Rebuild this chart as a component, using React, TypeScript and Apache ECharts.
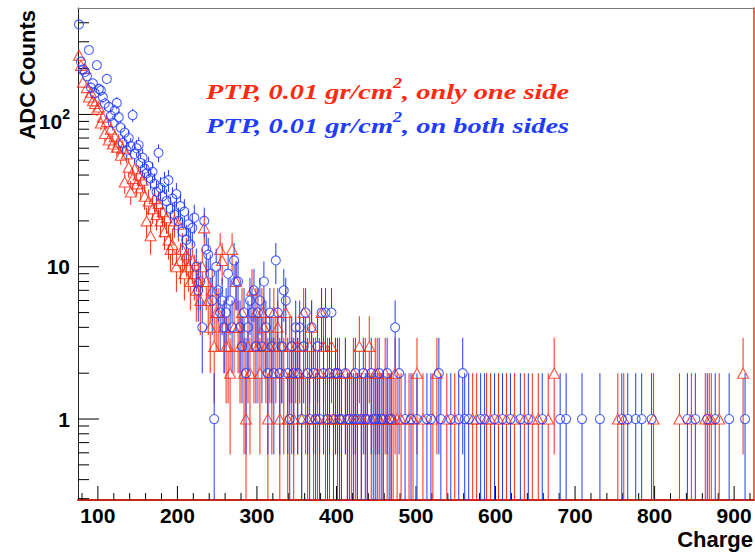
import React, { useEffect, useRef } from "react";
import * as echarts from "echarts";

// ---- axis ranges ----
const X_MIN = 75;
const X_MAX = 925;
const Y_MIN = 0.294;
const Y_MAX = 500;

// ---- histogram binning (bin k is centred at BIN_START + BIN_WIDTH * (k + 0.5)) ----
const BIN_START = 75;
const BIN_WIDTH = 2.5;

// counts, bins 0..159 (75 - 475)
const redHeadCounts = [
  245, 210, 163, 200, 150, 130, 140, 123, 118, 108,
  112, 88, 96, 75, 90, 68, 80, 64, 72, 61,
  66, 54, 60, 36, 55, 45, 31, 38, 44, 35,
  40, 33, 37, 29, 20, 27, 16, 24, 28, 22,
  26, 20, 23, 17, 21, 15, 13, 14, 20, 10,
  19, 11, 13, 9, 12, 10, 8, 11, 9, 7,
  8, 6, 10, 18, 8, 6, 4, 7, 3, 5,
  5, 13, 11, 4, 3, 3, 2, 13, 4, 8,
  4, 3, 5, 2, 1, 3, 2, 7, 3, 5,
  3, 2, 5, 4, 3, 1, 3, 2, 5, 3,
  4, 1, 3, 2, 5, 1, 3, 2, 1, 3,
  2, 3, 1, 5, 2, 1, 3, 4, 1, 2,
  1, 2, 5, 3, 1, 2, 1, 3, 1, 2,
  1, 2, 1, 0, 2, 1, 0, 1, 2, 1,
  1, 3, 1, 0, 2, 1, 3, 1, 0, 2,
  2, 1, 0, 1, 2, 1, 0, 1, 1, 2,
];

const blueHeadCounts = [
  390, 222, 197, 190, 178, 265, 150, 160, 138, 211,
  147, 144, 130, 118, 171, 112, 98, 88, 106, 119,
  96, 82, 65, 76, 58, 70, 62, 99, 55, 60,
  63, 48, 52, 44, 41, 46, 38, 42, 35, 31,
  56, 33, 29, 36, 27, 37, 24, 28, 22, 30,
  20, 25, 17, 23, 15, 19, 14, 18, 21, 10,
  7, 8, 4, 20, 13, 12, 9, 6, 1, 10,
  7, 5, 6, 4, 5, 9, 6, 4, 11, 8,
  8, 4, 3, 5, 2, 4, 6, 5, 7, 3,
  5, 6, 3, 8, 4, 2, 5, 3, 2, 11,
  5, 2, 3, 7, 6, 2, 1, 3, 2, 4,
  2, 4, 1, 3, 5, 2, 1, 4, 2, 1,
  3, 1, 5, 2, 5, 1, 2, 5, 1, 2,
  2, 1, 1, 0, 2, 1, 1, 0, 1, 2,
  1, 0, 1, 2, 1, 1, 0, 2, 1, 1,
  1, 2, 1, 1, 0, 2, 1, 1, 0, 4,
];

// sparse tails above 475: [charge, counts]
const redTail: [number, number][] = [
  [476.25, 1], [481.25, 1], [491.25, 1], [496.25, 1], [501.25, 2], [508.75, 1],
  [521.25, 1], [526.25, 2], [538.75, 1], [548.75, 1], [571.25, 1], [576.25, 1],
  [588.75, 1], [593.75, 1], [603.75, 1], [613.75, 1], [623.75, 1], [636.25, 1],
  [646.25, 1], [653.75, 1], [666.25, 1], [673.75, 2], [753.75, 1], [761.25, 1],
  [798.75, 1], [831.25, 1], [846.25, 1], [863.75, 1], [868.75, 1], [871.25, 1],
  [881.25, 1], [911.25, 2],
];

const blueTail: [number, number][] = [
  [478.75, 2], [486.25, 1], [493.75, 1], [501.25, 1], [513.75, 1], [518.75, 1],
  [528.75, 2], [531.25, 1], [543.75, 1], [553.75, 1], [558.75, 2], [561.25, 1],
  [566.25, 1], [581.25, 1], [586.25, 1], [598.75, 1], [608.75, 1], [618.75, 1],
  [631.25, 1], [641.25, 1], [658.75, 1], [681.25, 1], [688.75, 1], [708.75, 1],
  [731.25, 1], [758.75, 1], [766.25, 1], [776.25, 1], [783.75, 1], [796.25, 1],
  [841.25, 1], [851.25, 1], [866.25, 1], [876.25, 1], [893.75, 1], [913.75, 1],
];

// ---- ticks & labels ----
const xLabelValues = [100, 200, 300, 400, 500, 600, 700, 800, 900];
const xMinorTicks = [
  80, 120, 140, 160, 180, 220, 240, 260, 280, 320, 340, 360, 380, 420, 440, 460, 480,
  520, 540, 560, 580, 620, 640, 660, 680, 720, 740, 760, 780, 820, 840, 860, 880, 920,
];
const yMajorTicks = [1, 10, 100];
const yMinorTicks = [
  0.3, 0.4, 0.5, 0.6, 0.7, 0.8, 0.9, 2, 3, 4, 5, 6, 7, 8, 9,
  20, 30, 40, 50, 60, 70, 80, 90, 200, 300, 400,
];

const legendRed = "PTP, 0.01 gr/cm{s|2}, only one side";
const legendBlue = "PTP, 0.01 gr/cm{s|2}, on both sides";

const RED = "#ff2a12";
const BLUE = "#1f3dff";

function toPoints(head: number[], tail: [number, number][]) {
  const pts: [number, number][] = [];
  head.forEach((n, k) => {
    if (n > 0) pts.push([BIN_START + BIN_WIDTH * (k + 0.5), n]);
  });
  tail.forEach((p) => pts.push(p));
  return pts;
}

const makeErrRender = (color: string, gap: number) => (_params: any, api: any) => {
  const x = api.value(0);
  const n = api.value(1);
  const s = Math.sqrt(n);
  const lo = Math.max(n - s, Y_MIN);
  const hi = Math.min(n + s, Y_MAX);
  const p = api.coord([x, n]);
  const pl = api.coord([x, lo]);
  const ph = api.coord([x, hi]);
  const children: any[] = [];
  if (ph[1] < p[1] - gap)
    children.push({
      type: "line",
      shape: { x1: p[0], y1: ph[1], x2: p[0], y2: p[1] - gap },
      style: { stroke: color, lineWidth: 1 },
    });
  if (pl[1] > p[1] + gap)
    children.push({
      type: "line",
      shape: { x1: p[0], y1: p[1] + gap, x2: p[0], y2: pl[1] },
      style: { stroke: color, lineWidth: 1 },
    });
  return { type: "group", children };
};

const LABEL_FONT = "Liberation Sans";

export default function App() {
  const ref = useRef<HTMLDivElement>(null);

  useEffect(() => {
    if (!ref.current) return;
    const chart = echarts.init(ref.current, undefined, { renderer: "svg" });

    const redPts = toPoints(redHeadCounts, redTail);
    const bluePts = toPoints(blueHeadCounts, blueTail);

    const xTickData = [
      ...xLabelValues.map((v) => [v, Y_MIN, 14]),
      ...xMinorTicks.map((v) => [v, Y_MIN, 7]),
    ];
    const yTickData = [
      ...yMajorTicks.map((v) => [X_MIN, v, 21]),
      ...yMinorTicks.map((v) => [X_MIN, v, 11]),
    ];

    const serifRich = (color: string) => ({
      s: {
        fontFamily: "Liberation Serif",
        fontStyle: "italic",
        fontWeight: "bold",
        fontSize: 14,
        fill: color,
        padding: [0, 0, 15, 0],
      },
    });

    const option: any = {
      animation: false,
      backgroundColor: "#ffffff",
      grid: { left: 78, right: 1, top: 8, bottom: 53, containLabel: false },
      xAxis: [
        {
          type: "value",
          position: "bottom",
          min: X_MIN,
          max: X_MAX,
          axisLine: { show: true, lineStyle: { color: "#c8281a", width: 2 } },
          axisTick: { show: false },
          splitLine: { show: false },
          axisLabel: {
            customValues: xLabelValues,
            fontFamily: LABEL_FONT,
            fontWeight: "bold",
            fontSize: 21,
            color: "#000",
            margin: 5,
          },
        },
        {
          type: "value",
          position: "top",
          min: X_MIN,
          max: X_MAX,
          axisLine: { show: true, lineStyle: { color: "#7a7a7a", width: 1 } },
          axisTick: { show: false },
          axisLabel: { show: false },
          splitLine: { show: false },
        },
      ],
      yAxis: [
        {
          type: "log",
          logBase: 10,
          position: "left",
          min: Y_MIN,
          max: Y_MAX,
          axisLine: { show: true, lineStyle: { color: "#222", width: 1 } },
          axisTick: { show: false },
          splitLine: { show: false },
          axisLabel: {
            showMinLabel: false,
            showMaxLabel: false,
            fontFamily: LABEL_FONT,
            fontWeight: "bold",
            fontSize: 21,
            color: "#000",
            margin: 8,
            formatter: (v: number) => {
              const l = Math.log10(v);
              const e = Math.round(l);
              if (Math.abs(l - e) > 1e-6) return "";
              if (e === 0) return "1";
              if (e === 1) return "10";
              if (e === 2) return "{b|10}{s|2}";
              return "";
            },
            rich: {
              b: {
                fontFamily: LABEL_FONT,
                fontWeight: "bold",
                fontSize: 21,
                color: "#000",
                lineHeight: 21,
                padding: [14, 0, 0, 0],
              },
              s: {
                fontFamily: LABEL_FONT,
                fontWeight: "bold",
                fontSize: 14,
                color: "#000",
                lineHeight: 14,
              },
            },
          },
        },
        {
          type: "log",
          logBase: 10,
          position: "right",
          min: Y_MIN,
          max: Y_MAX,
          axisLine: { show: true, lineStyle: { color: "#e8321e", width: 1.5 } },
          axisTick: { show: false },
          axisLabel: { show: false },
          splitLine: { show: false },
        },
      ],
      graphic: [
        {
          type: "text",
          x: 27,
          y: 10,
          rotation: Math.PI / 2,
          style: {
            text: "ADC Counts",
            align: "right",
            verticalAlign: "middle",
            fontFamily: LABEL_FONT,
            fontWeight: "bold",
            fontSize: 22,
            fill: "#000",
          },
        },
        {
          type: "text",
          x: 753,
          y: 539,
          style: {
            text: "Charge",
            align: "right",
            verticalAlign: "middle",
            fontFamily: LABEL_FONT,
            fontWeight: "bold",
            fontSize: 22,
            fill: "#000",
          },
        },
        {
          type: "text",
          x: 206,
          y: 91,
          scaleX: 1.29,
          style: {
            text: legendRed,
            align: "left",
            verticalAlign: "middle",
            fontFamily: "Liberation Serif",
            fontStyle: "italic",
            fontWeight: "bold",
            fontSize: 22,
            fill: RED,
            rich: serifRich(RED),
          },
        },
        {
          type: "text",
          x: 206,
          y: 125,
          scaleX: 1.29,
          style: {
            text: legendBlue,
            align: "left",
            verticalAlign: "middle",
            fontFamily: "Liberation Serif",
            fontStyle: "italic",
            fontWeight: "bold",
            fontSize: 22,
            fill: BLUE,
            rich: serifRich(BLUE),
          },
        },
      ],
      series: [
        {
          type: "custom",
          name: "xTicks",
          xAxisIndex: 0,
          yAxisIndex: 0,
          data: xTickData,
          encode: { x: 0, y: 1 },
          silent: true,
          renderItem: (_p: any, api: any) => {
            const c = api.coord([api.value(0), Y_MIN]);
            return {
              type: "line",
              shape: { x1: c[0], y1: c[1], x2: c[0], y2: c[1] - api.value(2) },
              style: { stroke: "#000", lineWidth: 1 },
            };
          },
        },
        {
          type: "custom",
          name: "yTicks",
          xAxisIndex: 0,
          yAxisIndex: 0,
          data: yTickData,
          encode: { x: 0, y: 1 },
          silent: true,
          renderItem: (_p: any, api: any) => {
            const c = api.coord([X_MIN, api.value(1)]);
            return {
              type: "line",
              shape: { x1: c[0], y1: c[1], x2: c[0] + api.value(2), y2: c[1] },
              style: { stroke: "#000", lineWidth: 1 },
            };
          },
        },
        {
          type: "custom",
          name: "redErr",
          data: redPts,
          encode: { x: 0, y: 1 },
          silent: true,
          renderItem: makeErrRender(RED, 5),
        },
        {
          type: "scatter",
          name: "PTP, 0.01 gr/cm2, only one side",
          data: redPts,
          symbol: "triangle",
          symbolSize: [11, 10],
          silent: true,
          itemStyle: { color: "rgba(255,255,255,0)", borderColor: RED, borderWidth: 1.1 },
        },
        {
          type: "custom",
          name: "blueErr",
          data: bluePts,
          encode: { x: 0, y: 1 },
          silent: true,
          renderItem: makeErrRender(BLUE, 4.5),
        },
        {
          type: "scatter",
          name: "PTP, 0.01 gr/cm2, on both sides",
          data: bluePts,
          symbol: "circle",
          symbolSize: 9,
          silent: true,
          itemStyle: { color: "rgba(255,255,255,0)", borderColor: BLUE, borderWidth: 1.1 },
        },
      ],
    };

    chart.setOption(option);
    return () => chart.dispose();
  }, []);

  return (
    <div
      ref={ref}
      style={{ position: "absolute", left: 0, top: 0, width: 755, height: 553, background: "#fff" }}
    />
  );
}
